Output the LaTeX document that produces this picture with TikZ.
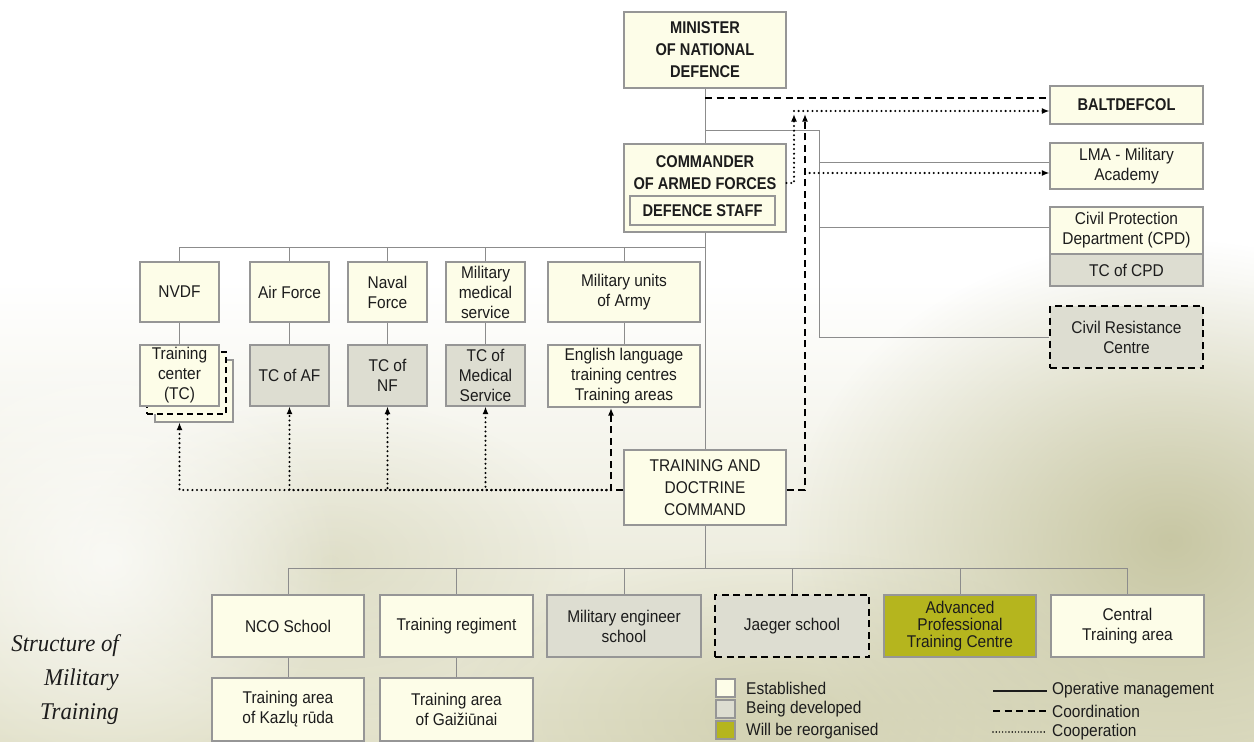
\documentclass[tikz,border=0pt]{standalone}
\usepackage{fontspec}
\usetikzlibrary{arrows.meta,fadings}
\newfontfamily\cond{Liberation Sans}[FakeStretch=0.91]
\newfontfamily\condb{Liberation Sans}[FakeStretch=0.86]
\newfontfamily\captionserif{Liberation Serif}[FakeStretch=0.95]

\definecolor{estfill}{RGB}{253,253,232}
\definecolor{devfill}{RGB}{221,221,209}
\definecolor{reorgfill}{RGB}{181,181,30}
\definecolor{boxedge}{RGB}{150,150,150}
\definecolor{opline}{RGB}{140,140,140}
\definecolor{ink}{RGB}{28,28,28}
\definecolor{bgolive}{RGB}{226,225,202}
\definecolor{bgdeep}{RGB}{190,189,148}

\tikzfading[name=softblob, inner color=transparent!0, outer color=transparent!100]

\begin{document}
\begin{tikzpicture}[x=1pt,y=-1pt,
  >={Latex[length=7.5pt,width=6pt]},
  span/.style n args={4}{minimum width={#3-#1}, minimum height={#4-#2},
    at={({(#1+#3)/2},{(#2+#4)/2})}},
  unit/.style={draw=boxedge, line width=1.1pt, fill=estfill, text=ink,
    align=center, inner sep=1pt, font=\cond\fontsize{17}{20}\selectfont},
  devunit/.style={unit, fill=devfill},
  reorgunit/.style={unit, fill=reorgfill},
  plannedunit/.style={devunit, draw=black, line width=1.6pt, dash pattern=on 7pt off 4.5pt},
  headunit/.style={unit, font=\condb\bfseries\fontsize{17}{22}\selectfont},
  headtext/.style={text=ink, align=center, inner sep=0pt, font=\condb\bfseries\fontsize{17}{22}\selectfont},
  keytext/.style={text=ink, anchor=west, inner sep=0pt, font=\cond\fontsize{17}{20}\selectfont},
  oper/.style={draw=opline, line width=1pt},
  coord/.style={draw=black, line width=1.7pt, dash pattern=on 7pt off 4.5pt},
  coop/.style={draw=black, line width=2.3pt, line cap=round, dash pattern=on 0pt off 4.6pt},
]
\useasboundingbox (0,0) rectangle (1254,742);

% paper background
\fill[white] (0,0) rectangle (1254,742);
\shade[top color=white, bottom color=bgolive] (0,280) rectangle (1254,742);
\fill[bgdeep, path fading=softblob, fill opacity=0.8] (1170,540) ellipse [x radius=380, y radius=300];
\fill[bgdeep, path fading=softblob, fill opacity=0.45] (780,720) ellipse [x radius=340, y radius=170];
\fill[bgdeep, path fading=softblob, fill opacity=0.3] (330,560) ellipse [x radius=260, y radius=160];
\fill[white, path fading=softblob, fill opacity=0.7] (110,560) ellipse [x radius=230, y radius=220];

% ---- command chain ----
\node[headunit, span={624}{12}{786}{88}] (min) {MINISTER\\OF NATIONAL\\DEFENCE};
\node[unit, span={624}{144}{786}{232}] (cmdr) {};
\node[headtext] (cmdrtext) at (705,173) {COMMANDER\\OF ARMED FORCES};
\node[headunit, span={630}{196}{775}{225}] (staff) {DEFENCE STAFF};
\node[unit, font=\cond\fontsize{17}{22}\selectfont, span={624}{450}{786}{525}] (tdc) {TRAINING AND\\DOCTRINE\\COMMAND};

% ---- right column ----
\node[headunit, span={1050}{86}{1203}{124}] (balt) {BALTDEFCOL};
\node[unit, span={1050}{143}{1203}{189}] (lma) {LMA - Military\\Academy};
\node[unit, span={1050}{207}{1203}{254}] (cpd) {Civil Protection\\Department (CPD)};
\node[devunit, span={1050}{254}{1203}{286}] (tccpd) {TC of CPD};
\node[plannedunit, span={1050}{306}{1203}{368}] (crc) {Civil Resistance\\Centre};

% ---- services ----
\node[unit, span={140}{262}{219}{322}] (nvdf) {NVDF};
\node[unit, span={250}{262}{329}{322}] (af) {Air Force};
\node[unit, span={348}{262}{427}{322}] (nf) {Naval\\Force};
\node[unit, span={446}{262}{525}{322}] (mms) {Military\\medical\\service};
\node[unit, span={548}{262}{700}{322}] (army) {Military units\\of Army};

% ---- training centres of services ----
\node[unit, span={155}{360}{233}{422}] (tcback) {};
\node[unit, draw=black, line width=1.6pt, dash pattern=on 6pt off 4pt, span={147}{352}{226}{414}] (tcmid) {};
\node[unit, span={140}{345}{219}{406}] (tc) {Training\\center\\(TC)};
\node[devunit, span={250}{345}{329}{406}] (tcaf) {TC of AF};
\node[devunit, span={348}{345}{427}{406}] (tcnf) {TC of\\NF};
\node[devunit, span={446}{345}{525}{406}] (tcms) {TC of\\Medical\\Service};
\node[unit, span={548}{345}{700}{407}] (eng) {English language\\training centres\\Training areas};

% ---- schools ----
\node[unit, span={212}{595}{364}{657}] (nco) {NCO School};
\node[unit, span={380}{595}{533}{657}] (treg) {Training regiment};
\node[devunit, span={547}{595}{701}{657}] (meng) {Military engineer\\school};
\node[plannedunit, span={715}{595}{869}{657}] (jaeger) {Jaeger school};
\node[reorgunit, font=\cond\fontsize{17}{17}\selectfont, span={884}{595}{1036}{657}] (apt) {Advanced\\Professional\\Training Centre};
\node[unit, span={1051}{595}{1204}{657}] (cta) {Central\\Training area};
\node[unit, span={212}{678}{364}{741}] (kaz) {Training area\\of Kazlų rūda};
\node[unit, span={380}{678}{533}{741}] (gai) {Training area\\of Gaižiūnai};

% ---- operative management ----
\coordinate (hubtop) at (705,130);
\coordinate (rail) at (819,130);
\coordinate (hubsvc) at (705,247);
\coordinate (hubsch) at (705,568);
\draw[oper] (min) -- (cmdr);
\draw[oper] (cmdr) -- (tdc);
\draw[oper] (tdc) -- (hubsch);
\draw[oper] (hubtop) -- (rail) |- (crc.west);
\draw[oper] (rail |- 0,162) -- (lma.west |- 0,162);
\draw[oper] (rail |- 0,227) -- (cpd.west |- 0,227);
\foreach \s in {nvdf,af,nf,mms,army} \draw[oper] (hubsvc) -| (\s.north);
\draw[oper] (nvdf) -- (tc);
\draw[oper] (af) -- (tcaf);
\draw[oper] (nf) -- (tcnf);
\draw[oper] (mms) -- (tcms);
\draw[oper] (army) -- (eng);
\foreach \s in {nco,treg,meng,jaeger,apt,cta} \draw[oper] (hubsch) -| (\s.north);
\draw[oper] (nco) -- (kaz);
\draw[oper] (treg) -- (gai);

% ---- coordination ----
\coordinate (coordtop) at (805,114);
\coordinate (engtip) at (611,408);
\draw[coord] (705,98) -- (balt.west |- 0,98);
\draw[coord,->] (tdc.east |- 0,490) -| (coordtop);
\draw[coord,->] (tdc.west |- 0,490) -| (engtip);

% ---- cooperation ----
\coordinate (coopjoin) at (611,490);
\coordinate (cooptop) at (794,114);
\draw[coop,->] (coopjoin) -| (tc.south |- tcback.south);
\draw[coop,->] (coopjoin) -| (tcaf.south);
\draw[coop,->] (coopjoin) -| (tcnf.south);
\draw[coop,->] (coopjoin) -| (tcms.south);
\draw[coop,->] (cmdr.east |- 0,183) -| (cooptop);
\draw[coop,->] (794,111) -- (balt.west |- 0,111);
\draw[coop,->] (805,173) -- (lma.west |- 0,173);

% ---- key ----
\node[unit, span={716}{679}{735}{697}] (keyest) {};
\node[devunit, span={716}{700}{735}{718}] (keydev) {};
\node[reorgunit, span={716}{721}{735}{739}] (keyreorg) {};
\node[keytext] (tEst) at (746,688) {Established};
\node[keytext] (tDev) at (746,709) {Being developed};
\node[keytext] (tReorg) at (746,731) {Will be reorganised};
\coordinate (k1a) at (993,691); \coordinate (k1b) at (1047,691);
\coordinate (k2a) at (993,711); \coordinate (k2b) at (1047,711);
\coordinate (k3a) at (993,732); \coordinate (k3b) at (1047,732);
\draw[draw=ink, line width=1.8pt] (k1a) -- (k1b);
\draw[coord] (k2a) -- (k2b);
\draw[coop, line width=1.6pt, dash pattern=on 0pt off 3.2pt] (k3a) -- (k3b);
\node[keytext] (tOper) at (1052,690) {Operative management};
\node[keytext] (tCoord) at (1052,711) {Coordination};
\node[keytext] (tCoop) at (1052,732) {Cooperation};

% ---- title ----
\node[anchor=east, align=right, text=ink, inner sep=0pt,
  font=\captionserif\itshape\fontsize{24}{34}\selectfont] (title) at (119,680)
  {Structure of\\Military\\Training};
\end{tikzpicture}
\end{document}
